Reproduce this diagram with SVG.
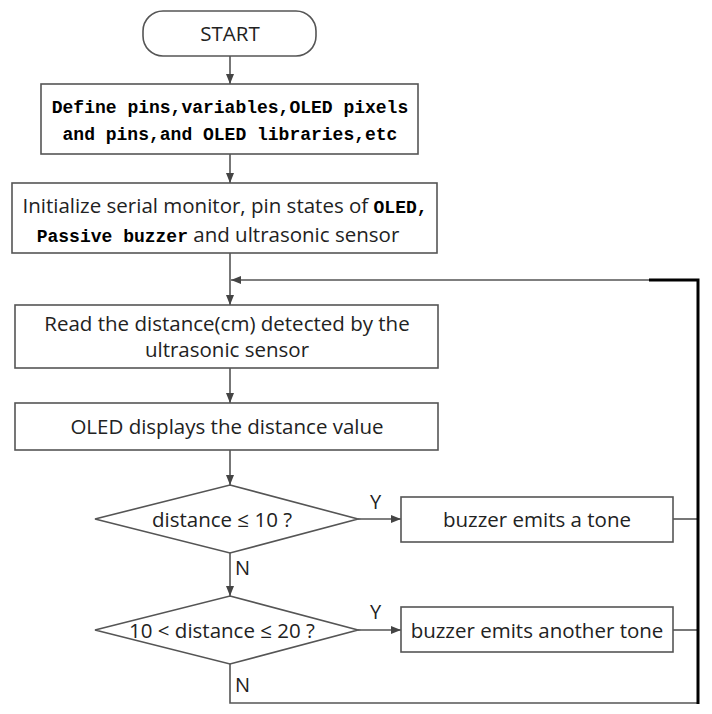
<svg xmlns="http://www.w3.org/2000/svg" width="712" height="714" viewBox="0 0 712 714">
<style>
.box{fill:#fff;stroke:#555;stroke-width:1.6}
.ln{fill:none;stroke:#555;stroke-width:1.6}
.thick{fill:none;stroke:#000;stroke-width:3}
.t{font-family:"Open Sans","Noto Sans","DejaVu Sans",sans-serif;font-size:20.5px;fill:#222;text-anchor:middle}
.m{font-family:"Liberation Mono","DejaVu Sans Mono",monospace;font-weight:bold;font-size:18px;fill:#000}
.lbl{font-family:"Open Sans","Noto Sans","DejaVu Sans",sans-serif;font-size:20px;fill:#222}
</style>
<defs>
<marker id="ah" viewBox="0 0 10 10" refX="10" refY="5" markerWidth="10" markerHeight="10" markerUnits="userSpaceOnUse" orient="auto">
<path d="M0,1 L10,5 L0,9 Z" fill="#444"/>
</marker>
</defs>
<g id="connectors">
<line class="ln" x1="230" y1="56" x2="230" y2="84" marker-end="url(#ah)"/>
<line class="ln" x1="230" y1="154" x2="230" y2="183" marker-end="url(#ah)"/>
<line class="ln" x1="230" y1="253" x2="230" y2="305" marker-end="url(#ah)"/>
<line class="ln" x1="649" y1="280" x2="231" y2="280" marker-end="url(#ah)"/>
<line class="ln" x1="230" y1="368" x2="230" y2="403" marker-end="url(#ah)"/>
<line class="ln" x1="230" y1="450" x2="230" y2="485" marker-end="url(#ah)"/>
<line class="ln" x1="358" y1="519" x2="401" y2="519" marker-end="url(#ah)"/>
<line class="ln" x1="230" y1="553" x2="230" y2="596" marker-end="url(#ah)"/>
<line class="ln" x1="358" y1="630" x2="401" y2="630" marker-end="url(#ah)"/>
<line class="ln" x1="673" y1="519" x2="698" y2="519"/>
<line class="ln" x1="673" y1="630" x2="698" y2="630"/>
<polyline class="ln" points="230,664 230,703 698,703"/>
<polyline class="thick" points="649,280 698,280 698,704"/>
<text class="lbl" x="370" y="509">Y</text>
<text class="lbl" x="370" y="619">Y</text>
<text class="lbl" x="235" y="575">N</text>
<text class="lbl" x="235" y="692">N</text>
</g>
<g id="start">
<rect class="box" x="143" y="11" width="173" height="45" rx="20"/>
<text class="t" x="230" y="41">START</text>
</g>
<g id="define">
<rect class="box" x="41" y="84" width="377" height="70"/>
<text class="t m" x="230" y="113">Define pins,variables,OLED pixels</text>
<text class="t m" x="230" y="140">and pins,and OLED libraries,etc</text>
</g>
<g id="init">
<rect class="box" x="12" y="183" width="425" height="70"/>
<text class="t" x="225" y="213">Initialize serial monitor, pin states of <tspan class="m">OLED,</tspan></text>
<text class="t" x="218" y="242"><tspan class="m">Passive buzzer</tspan> and ultrasonic sensor</text>
</g>
<g id="read">
<rect class="box" x="15" y="305" width="423" height="63"/>
<text class="t" x="227" y="331" font-size="20">Read the distance(cm) detected by the</text>
<text class="t" x="227" y="357">ultrasonic sensor</text>
</g>
<g id="display">
<rect class="box" x="15" y="403" width="423" height="47"/>
<text class="t" x="227" y="434">OLED displays the distance value</text>
</g>
<g id="dec1">
<polygon class="box" points="230,485 358,519 230,553 95,519"/>
<text class="t" x="222" y="527">distance ≤ 10 ?</text>
</g>
<g id="tone1">
<rect class="box" x="401" y="497" width="272" height="45"/>
<text class="t" x="537" y="527">buzzer emits a tone</text>
</g>
<g id="dec2">
<polygon class="box" points="230,596 358,630 230,664 95,630"/>
<text class="t" x="222" y="638">10 &lt; distance ≤ 20 ?</text>
</g>
<g id="tone2">
<rect class="box" x="401" y="607" width="272" height="45"/>
<text class="t" x="537" y="638">buzzer emits another tone</text>
</g>
</svg>
